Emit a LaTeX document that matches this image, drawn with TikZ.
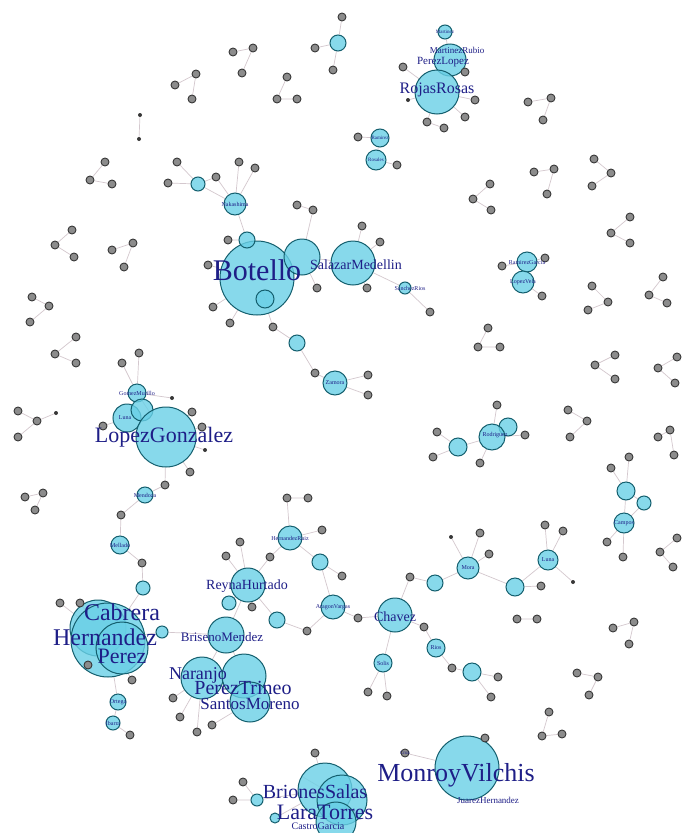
\documentclass[tikz,border=0pt]{standalone}
\usepackage{fontspec}
\setmainfont{Liberation Serif}
\pgfdeclarelayer{back}
\pgfdeclarelayer{bg}
\pgfsetlayers{back,bg,main}
\definecolor{bfill}{RGB}{105,208,230}
\definecolor{bdraw}{RGB}{20,95,110}
\definecolor{gfill}{RGB}{140,140,140}
\definecolor{gdraw}{RGB}{55,55,55}
\definecolor{lbc}{RGB}{30,30,135}
\definecolor{edc}{RGB}{212,200,206}
\tikzset{
 gn/.style={circle,draw=gdraw,fill=gfill,line width=0.9pt,minimum size=8pt,inner sep=0pt},
 tn/.style={circle,fill=gdraw,minimum size=4pt,inner sep=0pt},
 bn/.style={circle,draw=bdraw,fill=bfill,fill opacity=0.8,line width=1pt,inner sep=0pt},
 lb/.style={text=lbc,inner sep=0pt},
 ed/.style={draw=edc,line width=0.7pt},
}
\newcommand\GN[3]{\node[gn] (#1) at (#2,#3) {};}
\newcommand\TN[3]{\node[tn] (#1) at (#2,#3) {};}
\newcommand\BN[4]{\node[bn,minimum size=#4*2pt] (#1) at (#2,#3) {};}
\newcommand\LB[5]{\node[lb,font=\fontsize{#4}{#4}\selectfont] (#1) at (#2,#3) {#5};}
\newcommand\TRI[7]{\GN{#1a}{#2}{#3}\GN{#1b}{#4}{#5}\GN{#1c}{#6}{#7}%
 \begin{pgfonlayer}{bg}\draw[ed] (#1a)--(#1b)--(#1c);\end{pgfonlayer}}
\begin{document}
\begin{tikzpicture}[x=1pt,y=-1pt]
\begin{pgfonlayer}{back}
\fill[white] (0,0) rectangle (685,833);
\end{pgfonlayer}
\path[use as bounding box] (0,0) rectangle (685,833);
% triangles and pairs
\TRI{t1}{233}{52}{253}{48}{242}{73}
\TRI{t2}{175}{85}{196}{74}{192}{99}
\TRI{t3}{287}{77}{277}{99}{297}{99}
\TRI{t4}{105}{162}{90}{180}{112}{184}
\TRI{t5}{72}{230}{55}{245}{74}{257}
\TRI{t6}{112}{250}{133}{243}{124}{267}
\TRI{t7}{32}{297}{49}{306}{30}{322}
\TRI{t8}{76}{337}{55}{354}{76}{363}
\TRI{t9}{18}{411}{37}{421}{18}{437}
\TRI{t10}{25}{497}{43}{493}{35}{510}
\TRI{t11}{528}{102}{551}{98}{543}{120}
\TRI{t12}{534}{172}{554}{169}{547}{194}
\TRI{t13}{490}{184}{473}{199}{491}{210}
\TRI{t14}{594}{159}{611}{173}{592}{186}
\TRI{t15}{630}{217}{611}{233}{630}{243}
\TRI{t16}{592}{286}{608}{302}{588}{310}
\TRI{t17}{663}{277}{649}{295}{667}{303}
\TRI{t18}{488}{328}{478}{347}{500}{347}
\TRI{t19}{615}{355}{595}{365}{615}{379}
\TRI{t20}{677}{357}{658}{368}{675}{383}
\TRI{t21}{568}{410}{587}{421}{570}{437}
\TRI{t22}{658}{437}{670}{430}{674}{455}
\TRI{t23}{677}{538}{660}{552}{673}{567}
\TRI{t24}{613}{628}{634}{622}{629}{644}
\TRI{t25}{577}{673}{598}{677}{589}{695}
\TRI{t26}{549}{712}{542}{736}{562}{734}
\TN{p1a}{140}{115}\TN{p1b}{139}{139}
\GN{p2a}{517}{619}\GN{p2b}{537}{619}
\TN{t9d}{56}{413}
% top cluster
\GN{a1}{342}{17}\BN{a2}{338}{43}{8}\GN{a3}{315}{48}\GN{a4}{333}{70}
% top-left cluster
\GN{b1}{177}{162}\GN{b2}{168}{183}\BN{b3}{198}{184}{7}\GN{b4}{216}{177}
\BN{b5}{235}{204}{11}\GN{b6}{239}{162}\GN{b7}{255}{168}
% Botello cluster
\BN{c0}{257}{278}{37}\BN{c1}{247}{240}{8}\GN{c2}{228}{240}\GN{c3}{208}{265}
\BN{c4}{265}{299}{9}\BN{c5}{302}{257}{18}\BN{c6}{353}{263}{22}
\GN{c7}{362}{226}\GN{c8}{380}{242}\GN{c9}{317}{288}\GN{c10}{367}{288}
\BN{c11}{405}{288}{6}\GN{c12}{430}{312}\GN{c13}{213}{307}\GN{c14}{230}{323}
\GN{c15}{273}{327}\BN{c16}{297}{343}{8}\GN{c17}{315}{373}\BN{c18}{335}{383}{12}
\GN{c19}{368}{375}\GN{c20}{368}{395}\GN{p4a}{297}{205}\GN{p4b}{313}{210}
% LopezGonzalez cluster
\GN{d1}{139}{353}\GN{d2}{122}{363}\BN{d3}{137}{393}{9}\TN{d4}{172}{398}
\BN{d5}{127}{418}{14}\BN{d6}{142}{410}{11}\BN{d7}{166}{437}{30}
\GN{d8}{192}{412}\GN{d9}{202}{427}\TN{d10}{205}{450}\GN{d11}{190}{472}
\GN{d12}{103}{426}\GN{d13}{165}{485}\BN{d14}{145}{495}{8}\GN{d15}{121}{515}
\BN{d16}{120}{545}{9}\GN{d17}{142}{563}\BN{d18}{143}{588}{7}
% Hernandez cluster
\BN{e1}{98}{628}{28}\BN{e0}{108}{640}{37}\BN{e2}{122}{648}{26}
\GN{e3}{60}{603}\GN{e4}{80}{603}\BN{e5}{162}{632}{6}\GN{e6}{132}{680}
\GN{e7}{88}{665}\BN{e8}{118}{702}{8}\BN{e9}{113}{723}{7}\GN{e10}{130}{735}
% middle lower cluster
\BN{f1}{226}{635}{18}\BN{f2}{202}{678}{21}\BN{f3}{244}{676}{22}\BN{f4}{250}{702}{20}
\GN{f5}{173}{698}\GN{f6}{180}{717}\GN{f7}{197}{732}\GN{f8}{212}{725}
\BN{f9}{248}{585}{17}\BN{f10}{229}{603}{7}\GN{f11}{252}{607}\BN{f12}{277}{620}{8}
\GN{f13}{307}{631}\GN{f14}{240}{542}\GN{f15}{226}{556}\GN{f16}{270}{557}
\BN{f17}{290}{538}{12}\GN{f18}{287}{498}\GN{f19}{308}{498}\GN{f20}{322}{530}
\BN{f21}{320}{562}{8}\GN{f22}{342}{576}\BN{f23}{333}{607}{12}\GN{f24}{358}{618}
% Chavez cluster
\BN{g0}{395}{615}{17}\GN{g1}{410}{577}\BN{g2}{435}{583}{8}\BN{g3}{468}{568}{11}
\TN{g4}{451}{537}\GN{g5}{480}{533}\GN{g6}{489}{554}\BN{g7}{515}{587}{9}
\GN{g8}{541}{586}\BN{g9}{548}{560}{10}\GN{g10}{545}{525}\GN{g11}{563}{531}
\TN{g12}{573}{582}\GN{g13}{424}{627}\BN{g14}{436}{648}{9}\GN{g15}{452}{668}
\BN{g16}{472}{672}{9}\GN{g17}{498}{677}\GN{g18}{491}{697}
\BN{g19}{383}{663}{9}\GN{g20}{368}{692}\GN{g21}{387}{696}
% middle right cluster
\GN{h1}{497}{405}\BN{h2}{508}{427}{9}\BN{h3}{492}{437}{13}\GN{h4}{525}{435}
\BN{h5}{458}{447}{9}\GN{h6}{437}{432}\GN{h7}{433}{457}\GN{h8}{480}{463}
% right chain
\GN{k1}{629}{457}\GN{k2}{611}{468}\BN{k3}{626}{491}{9}\BN{k4}{644}{503}{7}
\BN{k5}{624}{523}{10}\GN{k6}{607}{542}\GN{k7}{623}{557}
% right blue pair
\BN{m1}{527}{262}{10}\BN{m2}{523}{282}{11}\GN{m3}{545}{258}\GN{m4}{542}{296}\GN{m5}{502}{266}
% RojasRosas cluster
\BN{r1}{445}{32}{7}\BN{r2}{450}{60}{16}\BN{r3}{437}{92}{22}\GN{r4}{403}{67}
\GN{r5}{465}{72}\GN{r6}{475}{100}\GN{r7}{465}{117}\GN{r8}{427}{122}\GN{r9}{444}{128}
\TN{r10}{408}{100}
\BN{s1}{380}{138}{9}\BN{s2}{376}{160}{10}\GN{s3}{358}{137}\GN{s4}{397}{165}
% bottom cluster
\BN{u1}{325}{790}{27}\BN{u2}{342}{800}{25}\BN{u3}{336}{822}{20}\GN{u4}{315}{753}
\GN{u5}{243}{782}\GN{u6}{233}{800}\BN{u7}{257}{800}{6}\BN{u8}{275}{818}{5}
\BN{v1}{467}{768}{32}\GN{v2}{405}{753}\GN{v3}{485}{738}
% edges
\begin{pgfonlayer}{bg}
\draw[ed] (p1a)--(p1b) (p2a)--(p2b) (t9b)--(t9d) (p4a)--(p4b) (p4b)--(c5);
\draw[ed] (a1)--(a2) (a2)--(a3) (a2)--(a4);
\draw[ed] (b1)--(b3) (b2)--(b3) (b3)--(b4) (b4)--(b5) (b3)--(b5) (b6)--(b5) (b7)--(b5) (b5)--(c1);
\draw[ed] (c0)--(c1) (c1)--(c2) (c0)--(c3) (c0)--(c4) (c0)--(c5) (c5)--(c6) (c6)--(c7) (c6)--(c8)
 (c5)--(c9) (c6)--(c10) (c6)--(c11) (c11)--(c12) (c0)--(c13) (c0)--(c14) (c0)--(c15)
 (c15)--(c16) (c16)--(c17) (c17)--(c18) (c18)--(c19) (c18)--(c20);
\draw[ed] (d1)--(d3) (d2)--(d3) (d3)--(d7) (d3)--(d4) (d5)--(d7) (d6)--(d7) (d7)--(d8) (d7)--(d9)
 (d7)--(d10) (d7)--(d11) (d5)--(d12) (d7)--(d13) (d13)--(d14) (d14)--(d15) (d15)--(d16)
 (d16)--(d17) (d17)--(d18) (d18)--(e0);
\draw[ed] (e3)--(e0) (e4)--(e0) (e0)--(e5) (e5)--(f1) (e0)--(e6) (e0)--(e7) (e0)--(e8) (e8)--(e9) (e9)--(e10);
\draw[ed] (f1)--(f2) (f1)--(f3) (f2)--(f3) (f3)--(f4) (f2)--(f5) (f2)--(f6) (f2)--(f7) (f4)--(f8)
 (f1)--(f9) (f9)--(f10) (f9)--(f11) (f9)--(f12) (f12)--(f13) (f9)--(f14) (f9)--(f15) (f9)--(f16)
 (f16)--(f17) (f17)--(f18) (f18)--(f19) (f17)--(f20) (f17)--(f21) (f21)--(f22) (f21)--(f23)
 (f23)--(f24) (f24)--(g0) (f13)--(f23);
\draw[ed] (g0)--(g1) (g1)--(g2) (g2)--(g3) (g3)--(g4) (g3)--(g5) (g3)--(g6) (g3)--(g7) (g7)--(g8)
 (g7)--(g9) (g9)--(g10) (g9)--(g11) (g9)--(g12) (g0)--(g13) (g13)--(g14) (g14)--(g15) (g15)--(g16)
 (g16)--(g17) (g16)--(g18) (g0)--(g19) (g19)--(g20) (g19)--(g21);
\draw[ed] (h1)--(h3) (h2)--(h3) (h3)--(h4) (h3)--(h5) (h5)--(h6) (h5)--(h7) (h3)--(h8);
\draw[ed] (k1)--(k3) (k2)--(k3) (k3)--(k4) (k4)--(k5) (k3)--(k5) (k5)--(k6) (k5)--(k7);
\draw[ed] (m1)--(m2) (m1)--(m3) (m2)--(m4) (m1)--(m5);
\draw[ed] (r1)--(r2) (r2)--(r3) (r3)--(r4) (r2)--(r5) (r3)--(r6) (r3)--(r7) (r3)--(r8) (r8)--(r9) (r3)--(r10);
\draw[ed] (s1)--(s2) (s1)--(s3) (s2)--(s4);
\draw[ed] (u4)--(u1) (u5)--(u7) (u6)--(u7) (u7)--(u1) (u8)--(u1) (u1)--(u2) (u2)--(u3);
\draw[ed] (v1)--(v2) (v1)--(v3);
\end{pgfonlayer}
% labels
\LB{Lbot}{257}{270}{30}{Botello}
\LB{Lmed}{356}{265}{14}{SalazarMedellin}
\LB{Llg}{164}{437}{22}{LopezGonzalez}
\LB{Lcab}{122}{612}{24}{Cabrera}
\LB{Lher}{105}{637}{24}{Hernandez}
\LB{Lper}{122}{656}{22}{Perez}
\LB{Lbri}{222}{637}{13}{BrisenoMendez}
\LB{Lrey}{247}{586}{14}{ReynaHurtado}
\LB{Lnar}{198}{675}{18}{Naranjo}
\LB{Lpt}{243}{688}{20}{PerezTrineo}
\LB{Lsm}{250}{704}{17}{SantosMoreno}
\LB{Lcha}{395}{617}{14}{Chavez}
\LB{Lmv}{456}{775}{26}{MonroyVilchis}
\LB{Lbs}{315}{792}{20}{BrionesSalas}
\LB{Llt}{325}{812}{22}{LaraTorres}
\LB{Lcg}{318}{826}{10}{CastroGarcia}
\LB{Ljh}{488}{800}{9}{JuarezHernandez}
\LB{Lrr}{437}{90}{16}{RojasRosas}
\LB{Lmr}{457}{50}{9}{MartinezRubio}
\LB{Lpl}{443}{62}{11}{PerezLopez}
\LB{Lr1}{445}{32}{5}{Martinez}
\LB{Lb5}{235}{204}{6}{Nakashima}
\LB{Lc11}{410}{288}{6}{SanchezRios}
\LB{Lc18}{335}{383}{6}{Zamora}
\LB{Ld3}{137}{393}{6}{GomezMurillo}
\LB{Ld5}{125}{418}{6}{Luna}
\LB{Ld14}{145}{495}{6}{Mendoza}
\LB{Ld16}{120}{545}{6}{Mellado}
\LB{Le8}{118}{702}{6}{Ortega}
\LB{Le9}{113}{723}{6}{Ibarra}
\LB{Lf17}{290}{538}{6}{HernandezRuiz}
\LB{Lf23}{333}{607}{6}{AragonVargas}
\LB{Lg3}{468}{568}{6}{Mora}
\LB{Lg9}{548}{560}{6}{Luna}
\LB{Lg14}{436}{648}{6}{Rios}
\LB{Lg19}{383}{663}{6}{Solis}
\LB{Lh3}{495}{435}{6}{Rodriguez}
\LB{Lk5}{624}{523}{6}{Campos}
\LB{Lm1}{527}{263}{6}{RamirezGarcia}
\LB{Lm2}{523}{282}{6}{LopezVela}
\LB{Ls1}{380}{138}{5}{Ramirez}
\LB{Ls2}{376}{160}{5}{Rosales}
\LB{Lv2}{405}{753}{5}{Cruz}
\end{tikzpicture}
\end{document}
